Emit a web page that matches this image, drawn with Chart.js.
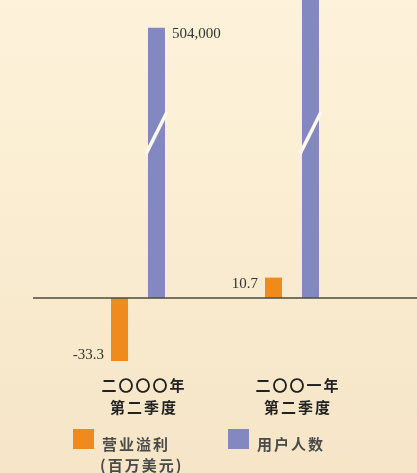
<!DOCTYPE html>
<html>
<head>
<meta charset="utf-8">
<script src="https://cdn.jsdelivr.net/npm/chart.js@4"></script>
<style>
  html, body { margin: 0; padding: 0; }
  body { width: 417px; height: 473px; overflow: hidden; background: linear-gradient(#fdf3da, #f6e5c7); }
  #wrap { position: relative; width: 417px; height: 473px; }
</style>
</head>
<body>
<div id="wrap"><canvas id="chart"></canvas></div>
<script>
// Daten
const categories = [['二〇〇〇年', '第二季度'], ['二〇〇一年', '第二季度']];
const profitValues = [-33.3, 10.7];
const userValues = [504000, 1150000];
const profitLabels = ['-33.3', '10.7'];
const userLabels = ['504,000', ''];
const legendLabels = [['营业溢利', '(百万美元)'], ['用户人数']];

const orange = '#ef8a1c';
const purple = '#8488c0';

// y-Achsen: Null muss bei beiden auf gleicher Höhe liegen
const yMin = -38, yMax = 157;
const y2Max = 556000;
const y2Min = y2Max * yMin / yMax;

const overlayPlugin = {
  id: 'overlay',
  afterDatasetsDraw(chart) {
    const ctx = chart.ctx;
    const y0 = chart.scales.y.getPixelForValue(0);

    // Grundlinie, etwas breiter als Chartbereich
    ctx.save();
    ctx.strokeStyle = '#4b4a3e';
    ctx.lineWidth = 1.5;
    ctx.beginPath();
    ctx.moveTo(33, y0);
    ctx.lineTo(chart.width, y0);
    ctx.stroke();

    // Bruchstriche auf den Nutzer-Balken
    const userMeta = chart.getDatasetMeta(1);
    ctx.strokeStyle = '#fffaec';
    ctx.lineWidth = 3.5;
    userMeta.data.forEach(bar => {
      const half = bar.width / 2;
      ctx.beginPath();
      ctx.moveTo(bar.x - half - 2, 154);
      ctx.lineTo(bar.x + half + 2, 112);
      ctx.stroke();
    });

    // Wertbeschriftungen
    ctx.fillStyle = '#333';
    ctx.font = '15px "Liberation Serif"';
    ctx.textBaseline = 'middle';
    const profitMeta = chart.getDatasetMeta(0);
    profitMeta.data.forEach((bar, i) => {
      ctx.textAlign = 'right';
      const yy = profitValues[i] < 0 ? bar.y - 6 : bar.y + 6;
      ctx.fillText(profitLabels[i], bar.x - bar.width / 2 - 7, yy);
    });
    userMeta.data.forEach((bar, i) => {
      if (!userLabels[i]) return;
      ctx.textAlign = 'left';
      ctx.fillText(userLabels[i], bar.x + bar.width / 2 + 7, bar.y + 6);
    });
    ctx.restore();
  },
  afterDraw(chart) {
    const ctx = chart.ctx;
    const xs = chart.scales.x;
    ctx.save();
    ctx.textAlign = 'center';
    ctx.textBaseline = 'middle';
    ctx.fillStyle = '#222';
    ctx.font = 'bold 15px "Noto Sans CJK SC"';
    ctx.letterSpacing = '2px';
    categories.forEach((lines, i) => {
      const x = xs.getPixelForValue(i) + 6;
      ctx.fillText(lines[0], x, 385);
      ctx.fillText(lines[1], x, 407);
    });

    // Legende
    const boxes = [{ x: 73, color: orange }, { x: 228, color: purple }];
    ctx.textAlign = 'left';
    legendLabels.forEach((lines, i) => {
      ctx.fillStyle = boxes[i].color;
      ctx.fillRect(boxes[i].x, 429, 21, 20);
      ctx.fillStyle = '#4a4a4a';
      lines.forEach((t, j) => {
        ctx.fillText(t, boxes[i].x + (j === 0 ? 29 : 27), 444 + j * 21);
      });
    });
    ctx.restore();
  }
};

new Chart(document.getElementById('chart'), {
  type: 'bar',
  data: {
    labels: categories,
    datasets: [
      {
        label: '营业溢利 (百万美元)',
        data: profitValues,
        backgroundColor: orange,
        yAxisID: 'y',
        categoryPercentage: 0.48,
        barPercentage: 0.46
      },
      {
        label: '用户人数',
        data: userValues,
        backgroundColor: purple,
        yAxisID: 'y2',
        categoryPercentage: 0.48,
        barPercentage: 0.46
      }
    ]
  },
  options: {
    responsive: true,
    maintainAspectRatio: false,
    animation: false,
    layout: { padding: { left: 61, right: 48, top: 0, bottom: 103 } },
    scales: {
      x: { display: false },
      y: { display: false, min: yMin, max: yMax },
      y2: { display: false, min: y2Min, max: y2Max }
    },
    plugins: {
      legend: { display: false },
      tooltip: { enabled: false }
    }
  },
  plugins: [overlayPlugin]
});
</script>
</body>
</html>
